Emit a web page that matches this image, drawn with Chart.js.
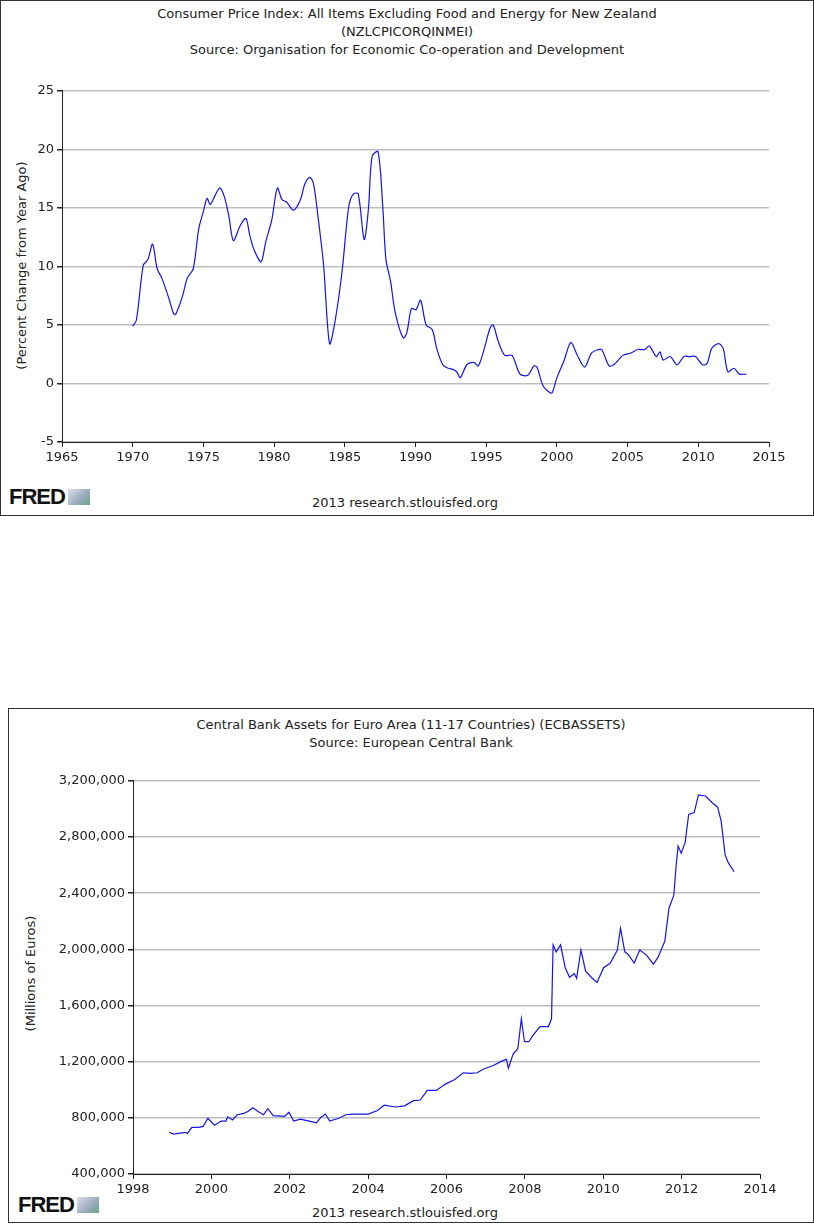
<!DOCTYPE html>
<html>
<head>
<meta charset="utf-8">
<script src="https://cdn.jsdelivr.net/npm/chart.js@4/dist/chart.umd.min.js"></script>
<style>
body { margin: 0; background: #fff; font-family: "DejaVu Sans", sans-serif; color: #222; }
.frame { position: absolute; border: 1px solid #333; box-sizing: border-box; }
.title { position: absolute; left: 0; right: 0; text-align: center; font-size: 13px; line-height: 18px; }
.ytitle { position: absolute; font-size: 13px; transform: rotate(-90deg); transform-origin: center; white-space: nowrap; }
.foot { position: absolute; font-size: 13px; }
.fred { position: absolute; font-family: "Liberation Sans", Arial, sans-serif; font-weight: bold; font-size: 22px; letter-spacing: -1px; color: #111; }
.fred i { display: inline-block; width: 22px; height: 16px; margin-left: 3px; background: linear-gradient(135deg, #dde 0%, #9ab 60%, #6a8 100%); vertical-align: -1px; }
canvas { position: absolute; }
</style>
</head>
<body>
<div class="frame" style="left:0;top:0;width:814px;height:516px"></div>
<div class="title" style="top:5px;width:814px">Consumer Price Index: All Items Excluding Food and Energy for New Zealand<br>(NZLCPICORQINMEI)<br>Source: Organisation for Economic Co-operation and Development</div>
<div class="ytitle" style="left:-84px;top:258px;width:210px;text-align:center">(Percent Change from Year Ago)</div>
<div class="fred" style="left:9px;top:484px">FRED<i></i></div>
<div class="foot" style="left:312px;top:495px">2013 research.stlouisfed.org</div>
<div style="position:absolute;left:0;top:80px;width:800px;height:392px"><canvas id="cpi"></canvas></div>

<div class="frame" style="left:8px;top:708px;width:806px;height:515px"></div>
<div class="title" style="top:716px;left:8px;width:806px">Central Bank Assets for Euro Area (11-17 Countries) (ECBASSETS)<br>Source: European Central Bank</div>
<div class="ytitle" style="left:-30px;top:966px;width:120px;text-align:center">(Millions of Euros)</div>
<div class="fred" style="left:18px;top:1192px">FRED<i></i></div>
<div class="foot" style="left:312px;top:1205px">2013 research.stlouisfed.org</div>
<div style="position:absolute;left:8px;top:770px;width:780px;height:434px"><canvas id="ecb"></canvas></div>

<script>
// NZ core CPI, percent change from year ago
const cpiData = [
  [1970.00, 4.9], [1970.26, 5.4], [1970.75, 10.1], [1971.08, 10.6], [1971.41, 11.9], [1971.73, 9.8],
  [1972.06, 9.0], [1972.55, 7.3], [1972.88, 6.0], [1973.04, 5.9], [1973.53, 7.5], [1973.86, 9.0],
  [1974.28, 9.8], [1974.67, 13.2], [1975.00, 14.7], [1975.26, 15.8], [1975.49, 15.3], [1976.14, 16.7],
  [1976.47, 16.0], [1976.80, 14.3], [1977.12, 12.2], [1977.61, 13.5], [1978.01, 14.1], [1978.27, 12.7],
  [1978.59, 11.4], [1979.08, 10.4], [1979.41, 12.1], [1979.84, 14.0], [1980.23, 16.7], [1980.56, 15.7],
  [1980.88, 15.5], [1981.37, 14.8], [1981.86, 15.7], [1982.19, 17.1], [1982.52, 17.6], [1982.78, 17.1],
  [1983.10, 14.3], [1983.50, 10.1], [1983.92, 3.4], [1984.31, 5.3], [1984.80, 9.5], [1985.29, 15.2],
  [1985.62, 16.2], [1985.95, 16.2], [1986.37, 12.3], [1986.67, 14.9], [1986.93, 19.4], [1987.35, 19.8],
  [1987.68, 15.2], [1987.91, 10.6], [1988.24, 8.7], [1988.56, 6.1], [1989.12, 3.9], [1989.38, 4.3],
  [1989.71, 6.4], [1990.03, 6.3], [1990.36, 7.1], [1990.75, 5.0], [1991.18, 4.6], [1991.50, 3.0],
  [1991.93, 1.6], [1992.32, 1.3], [1992.65, 1.2], [1992.91, 1.0], [1993.17, 0.5], [1993.63, 1.6],
  [1994.12, 1.8], [1994.44, 1.5], [1994.87, 3.0], [1995.26, 4.7], [1995.49, 5.0], [1995.85, 3.6],
  [1996.31, 2.4], [1996.83, 2.4], [1997.39, 0.8], [1997.94, 0.7], [1998.37, 1.5], [1998.59, 1.4],
  [1999.02, -0.2], [1999.51, -0.8], [1999.67, -0.8], [2000.00, 0.5], [2000.49, 1.9], [2000.98, 3.5],
  [2001.41, 2.5], [2001.96, 1.4], [2002.45, 2.6], [2002.94, 2.9], [2003.17, 2.9], [2003.69, 1.5],
  [2004.02, 1.6], [2004.67, 2.4], [2005.23, 2.6], [2005.72, 2.9], [2006.21, 2.9], [2006.54, 3.2],
  [2007.03, 2.3], [2007.29, 2.7], [2007.52, 2.0], [2008.01, 2.3], [2008.50, 1.6], [2008.99, 2.3],
  [2009.38, 2.3], [2009.80, 2.3], [2010.29, 1.6], [2010.62, 1.7], [2010.95, 3.0], [2011.44, 3.4],
  [2011.76, 3.0], [2012.09, 1.0], [2012.52, 1.3], [2012.91, 0.8], [2013.40, 0.8]
];

// ECB total assets, thousands of millions of euros (scaled below)
const ecbData = [
  [1998.92, 697], [1999.04, 684], [1999.33, 697], [1999.39, 689], [1999.50, 732], [1999.67, 732],
  [1999.79, 739], [1999.91, 797], [2000.08, 747], [2000.25, 777], [2000.37, 777], [2000.42, 807],
  [2000.54, 784], [2000.66, 822], [2000.83, 832], [2000.94, 847], [2001.06, 872], [2001.18, 847],
  [2001.33, 822], [2001.44, 865], [2001.58, 815], [2001.87, 810], [2001.98, 840], [2002.10, 777],
  [2002.27, 790], [2002.50, 777], [2002.68, 764], [2002.79, 802], [2002.91, 827], [2003.02, 777],
  [2003.25, 797], [2003.43, 822], [2003.60, 827], [2003.77, 827], [2004.00, 827], [2004.24, 852],
  [2004.41, 890], [2004.70, 877], [2004.93, 885], [2005.16, 922], [2005.33, 927], [2005.51, 995],
  [2005.74, 995], [2005.97, 1040], [2006.20, 1071], [2006.43, 1121], [2006.60, 1116], [2006.78, 1121],
  [2006.95, 1148], [2007.18, 1171], [2007.41, 1204], [2007.53, 1216], [2007.58, 1153], [2007.70, 1254],
  [2007.82, 1292], [2007.91, 1505], [2007.99, 1342], [2008.10, 1342], [2008.22, 1392], [2008.39, 1450],
  [2008.60, 1450], [2008.68, 1505], [2008.72, 2032], [2008.80, 1982], [2008.91, 2032], [2009.03, 1869],
  [2009.14, 1801], [2009.26, 1826], [2009.32, 1794], [2009.43, 1995], [2009.55, 1844], [2009.72, 1794],
  [2009.84, 1764], [2010.01, 1869], [2010.18, 1902], [2010.36, 1995], [2010.44, 2150], [2010.55, 1982],
  [2010.64, 1962], [2010.79, 1902], [2010.93, 1995], [2011.11, 1957], [2011.28, 1894], [2011.40, 1944],
  [2011.57, 2057], [2011.68, 2296], [2011.80, 2384], [2011.86, 2597], [2011.91, 2735], [2011.99, 2685],
  [2012.09, 2761], [2012.18, 2961], [2012.32, 2974], [2012.43, 3100], [2012.61, 3092], [2012.78, 3044],
  [2012.92, 3012], [2013.01, 2911], [2013.11, 2673], [2013.19, 2617], [2013.34, 2552]
];

const tickFont = { family: 'DejaVu Sans', size: 13 };

function fredChart(id, data, xmin, xmax, xstep, ymin, ymax, ystep, yWidth, padRight, tension) {
    return new Chart(document.getElementById(id), {
        type: 'line',
        data: {
            datasets: [{
                data: data.map(d => ({ x: d[0], y: d[1] })),
                borderColor: 'rgb(20, 20, 235)',
                borderWidth: 1.2,
                pointRadius: 0,
                tension: tension,
                fill: false
            }]
        },
        options: {
            animation: false,
            responsive: true,
            maintainAspectRatio: false,
            layout: { padding: { top: 10, right: padRight, left: 0, bottom: 0 } },
            plugins: { legend: { display: false }, tooltip: { enabled: false } },
            scales: {
                x: {
                    type: 'linear', min: xmin, max: xmax,
                    ticks: { stepSize: xstep, color: '#222', font: tickFont, callback: v => String(v), maxRotation: 0 },
                    grid: { drawOnChartArea: false, drawTicks: true, tickColor: '#222', tickLength: 5 },
                    border: { color: '#222' },
                    afterFit: s => { s.height = 30; }
                },
                y: {
                    min: ymin, max: ymax,
                    ticks: { stepSize: ystep, color: '#222', font: tickFont },
                    grid: { color: '#bdbdbd', lineWidth: 1.5, tickColor: '#222', tickLength: 5 },
                    border: { color: '#222' },
                    afterFit: s => { s.width = yWidth; }
                }
            }
        }
    });
}

fredChart('cpi', cpiData, 1965, 2015, 5, -5, 25, 5, 62, 31, 0.3);
fredChart('ecb', ecbData.map(d => [d[0], d[1] * 1000]), 1998, 2014, 2, 400000, 3200000, 400000, 125, 28, 0);
</script>
</body>
</html>
